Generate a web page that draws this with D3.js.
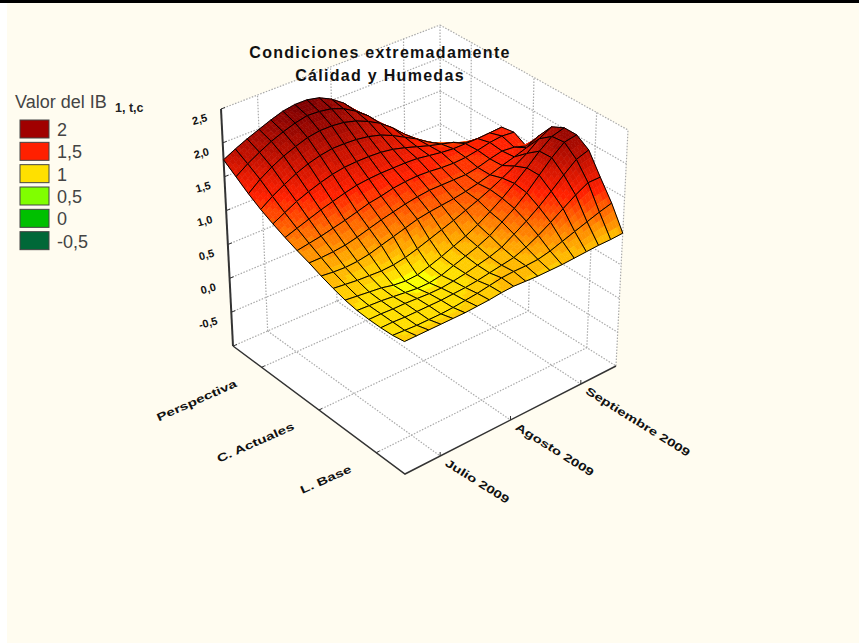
<!DOCTYPE html>
<html>
<head>
<meta charset="utf-8">
<title>Condiciones extremadamente</title>
<script src="https://cdn.jsdelivr.net/npm/d3@7"></script>
<style>
  html, body { margin: 0; padding: 0; background: #ffffff; }
  svg { display: block; }
  text { font-family: "Liberation Sans", Arial, sans-serif; }
</style>
</head>
<body>
<div id="chart"></div>
<script>
// values

const months = ['Julio 2009', 'Agosto 2009', 'Septiembre 2009'];
const groups = ['Perspectiva', 'C. Actuales', 'L. Base'];
const zTicks = [2.5, 2, 1.5, 1, 0.5, 0, -0.5, -1];
const zTickLabels = ['2,5', '2,0', '1,5', '1,0', '0,5', '0,0', '-0,5', ''];
const legendLevels = [2, 1.5, 1, 0.5, 0, -0.5];
const legendLabels = ['2', '1,5', '1', '0,5', '0', '-0,5'];
const legendColors = ['#a00000', '#ff2000', '#ffe000', '#80ff00', '#00c000', '#006838'];

// surface heights: one row per line from Perspectiva to L. Base,
// one column per line from Julio to Septiembre
const surface = [
  [1.75,1.84,1.92,1.99,2.06,2.12,2.15,2.15,2.11,2.02,1.89,1.70,1.46,1.24,1.05,0.90,0.78,0.66,0.56],
  [1.62,1.74,1.84,1.93,2.00,2.06,2.10,2.09,2.06,1.99,1.88,1.74,1.54,1.34,1.15,0.99,0.88,0.78,0.70],
  [1.49,1.63,1.74,1.83,1.90,1.96,1.99,1.99,1.97,1.92,1.84,1.74,1.60,1.43,1.26,1.12,1.00,0.92,0.85],
  [1.38,1.50,1.60,1.69,1.76,1.81,1.84,1.84,1.83,1.80,1.75,1.67,1.57,1.47,1.35,1.25,1.15,1.05,0.98],
  [1.29,1.38,1.47,1.54,1.60,1.65,1.68,1.69,1.69,1.68,1.65,1.60,1.54,1.48,1.43,1.38,1.30,1.22,1.20],
  [1.21,1.27,1.33,1.39,1.44,1.49,1.53,1.55,1.56,1.56,1.56,1.55,1.52,1.49,1.47,1.47,1.47,1.48,1.49],
  [1.14,1.17,1.20,1.24,1.28,1.33,1.38,1.41,1.45,1.47,1.48,1.47,1.45,1.44,1.45,1.48,1.52,1.54,1.52],
  [1.08,1.08,1.09,1.11,1.15,1.20,1.25,1.29,1.33,1.36,1.38,1.38,1.38,1.38,1.41,1.46,1.50,1.48,1.42],
  [1.01,0.99,0.98,0.99,1.02,1.07,1.12,1.17,1.22,1.25,1.27,1.29,1.32,1.36,1.41,1.47,1.52,1.58,1.68],
  [0.95,0.93,0.91,0.90,0.89,0.90,0.93,0.98,1.04,1.10,1.16,1.23,1.30,1.38,1.47,1.57,1.68,1.82,1.92],
  [0.90,0.88,0.86,0.84,0.80,0.78,0.79,0.84,0.90,0.97,1.04,1.13,1.24,1.36,1.50,1.65,1.82,1.96,2.01],
  [0.87,0.86,0.85,0.83,0.81,0.79,0.79,0.82,0.88,0.94,1.00,1.08,1.20,1.32,1.47,1.65,1.83,1.98,2.01],
  [0.86,0.86,0.85,0.85,0.84,0.83,0.83,0.85,0.88,0.92,0.96,1.02,1.13,1.24,1.37,1.52,1.68,1.83,1.89],
  [0.86,0.86,0.85,0.85,0.85,0.85,0.86,0.87,0.89,0.92,0.95,0.98,1.05,1.14,1.25,1.37,1.49,1.59,1.59],
  [0.87,0.86,0.85,0.85,0.85,0.86,0.88,0.90,0.93,0.96,0.97,0.97,0.98,1.02,1.08,1.14,1.20,1.26,1.31],
  [0.90,0.90,0.90,0.90,0.90,0.90,0.91,0.92,0.94,0.95,0.94,0.93,0.93,0.93,0.94,0.95,0.96,0.96,0.97]
];

const w = 859, h = 643;

const svg = d3.select('#chart').append('svg')
  .attr('width', w)
  .attr('height', h);

// page background
svg.append('rect').attr('x', 7).attr('y', 0).attr('width', w - 7).attr('height', h).attr('fill', '#fffcf0');
svg.append('rect').attr('width', w).attr('height', 3).attr('fill', '#000');

// screen position of the eight box corners, named by [month side][group side]
const floor = { L: [233, 346], F: [405, 474], R: [616, 366], B: [441, 256] };
const roof  = { L: [221, 109], F: [404, 230], R: [628, 130], B: [440, 25] };

// scales take data to the unit cube
const uGrid = d3.scaleLinear().domain([0, surface[0].length - 1]).range([0, 1]);
const vGrid = d3.scaleLinear().domain([0, surface.length - 1]).range([0, 1]);
const uMonth = d3.scalePoint().domain(months).range([0, 1]).padding(0.5);
const vGroup = d3.scalePoint().domain(groups).range([0, 1]).padding(0.5);
const wValue = d3.scaleLinear().domain([-1, 2.5]).range([0, 1]);

function mix(a, b, t) {
  return [a[0] + (b[0] - a[0]) * t, a[1] + (b[1] - a[1]) * t];
}

// u runs Julio->Septiembre, v runs Perspectiva->L. Base, t runs floor->roof
function project(u, v, t) {
  const low = mix(mix(floor.L, floor.B, u), mix(floor.F, floor.R, u), v);
  const high = mix(mix(roof.L, roof.B, u), mix(roof.F, roof.R, u), v);
  return mix(low, high, t);
}

const line = d3.line();

// walls and floor
const walls = svg.append('g');
[[[0, 0, 0], [1, 0, 0], [1, 0, 1], [0, 0, 1]],
 [[1, 0, 0], [1, 1, 0], [1, 1, 1], [1, 0, 1]],
 [[0, 0, 0], [1, 0, 0], [1, 1, 0], [0, 1, 0]]].forEach(face => {
  walls.append('path')
    .attr('d', line(face.map(p => project(p[0], p[1], p[2]))) + 'Z')
    .attr('fill', '#fff');
});

function gridLine(a, b) {
  walls.append('path')
    .attr('d', line([project(...a), project(...b)]))
    .attr('fill', 'none')
    .attr('stroke', '#aaa')
    .attr('stroke-width', 1.2)
    .attr('stroke-dasharray', '1.5 1.5');
}

zTicks.forEach(z => {
  const t = wValue(z);
  gridLine([0, 0, t], [1, 0, t]);
  gridLine([1, 0, t], [1, 1, t]);
});
months.forEach(m => {
  const u = uMonth(m);
  gridLine([u, 0, 0], [u, 0, 1]);
  gridLine([u, 0, 0], [u, 1, 0]);
});
groups.forEach(g => {
  const v = vGroup(g);
  gridLine([1, v, 0], [1, v, 1]);
  gridLine([0, v, 0], [1, v, 0]);
});
gridLine([1, 0, 0], [1, 0, 1]);
gridLine([1, 1, 0], [1, 1, 1]);

// axes
const axes = svg.append('g').attr('fill', 'none').attr('stroke', '#333');
axes.append('path').attr('stroke-width', 2)
  .attr('d', line([project(0, 0, 0), project(0, 0, 1)]));
axes.append('path').attr('stroke-width', 1.5)
  .attr('d', line([project(0, 0, 0), project(0, 1, 0), project(1, 1, 0)]));

zTicks.forEach(z => {
  const p = project(0, 0, wValue(z));
  axes.append('path').attr('stroke-width', 1).attr('d', line([p, [p[0] + 4, p[1] - 1.5]]));
});
months.forEach(m => {
  const p = project(uMonth(m), 1, 0);
  axes.append('path').attr('stroke-width', 1).attr('d', line([p, [p[0], p[1] - 4]]));
});
groups.forEach(g => {
  const p = project(0, vGroup(g), 0);
  axes.append('path').attr('stroke-width', 1).attr('d', line([p, [p[0] + 3, p[1] - 1.5]]));
});

// colour follows the height, in flat bands as on the original surface
const bandStep = 0.065;
const colorScale = d3.scaleLinear()
  .domain([-0.5, 0, 0.5, 0.79, 0.84, 1.5, 2.15])
  .range(['#006838', '#00c000', '#80ff00', '#ffff00', '#ffe000', '#ff2000', '#800000'])
  .clamp(true);
const bandColor = z => colorScale(Math.round(z / bandStep) * bandStep);

// surface, painted from the back corner to the front corner
const mesh = svg.append('g').attr('stroke-linejoin', 'round');
const subdiv = 4;
const rows = surface.length, cols = surface[0].length;

for (let r = 0; r < rows - 1; r++) {
  for (let c = cols - 2; c >= 0; c--) {
    const z00 = surface[r][c], z01 = surface[r][c + 1];
    const z10 = surface[r + 1][c], z11 = surface[r + 1][c + 1];
    const at = (a, b) => {
      const z = (z00 * (1 - a) + z01 * a) * (1 - b) + (z10 * (1 - a) + z11 * a) * b;
      return { z, p: project(uGrid(c + a), vGrid(r + b), wValue(z)) };
    };
    for (let i = 0; i < subdiv; i++) {
      for (let j = 0; j < subdiv; j++) {
        const a0 = i / subdiv, a1 = (i + 1) / subdiv;
        const b0 = j / subdiv, b1 = (j + 1) / subdiv;
        const col = bandColor(at((a0 + a1) / 2, (b0 + b1) / 2).z);
        mesh.append('path')
          .attr('d', line([at(a0, b0).p, at(a1, b0).p, at(a1, b1).p, at(a0, b1).p]) + 'Z')
          .attr('fill', col)
          .attr('stroke', col)
          .attr('stroke-width', 0.6);
      }
    }
    mesh.append('path')
      .attr('d', line([at(0, 0).p, at(1, 0).p, at(1, 1).p, at(0, 1).p]) + 'Z')
      .attr('fill', 'none')
      .attr('stroke', '#000')
      .attr('stroke-width', 1);
  }
}

// tick labels, the glyphs of the original are stretched sideways
const labels = svg.append('g').attr('font-weight', 'bold').attr('font-size', 11).attr('fill', '#111');

zTicks.forEach((z, i) => {
  const p = project(0, 0, wValue(z));
  labels.append('text')
    .attr('transform', `translate(${p[0] - 13},${p[1] + 12}) rotate(-15)`)
    .attr('text-anchor', 'end')
    .text(zTickLabels[i]);
});
months.forEach(m => {
  const p = project(uMonth(m), 1, 0);
  labels.append('text')
    .attr('transform', `translate(${p[0] + 4},${p[1] + 9}) rotate(32) scale(1.38,1)`)
    .text(m);
});
groups.forEach(g => {
  const p = project(0, vGroup(g), 0);
  labels.append('text')
    .attr('transform', `translate(${p[0] - 24},${p[1] + 19}) rotate(-24) scale(1.4,1)`)
    .attr('text-anchor', 'end')
    .text(g);
});

// title
const title = svg.append('g').attr('font-weight', 'bold').attr('font-size', 16).attr('fill', '#111')
  .attr('letter-spacing', 1.3).attr('text-anchor', 'middle');
title.append('text').attr('x', 380).attr('y', 58).text('Condiciones extremadamente');
title.append('text').attr('x', 380).attr('y', 81).text('Cálidad y Humedas');

// legend
const legend = svg.append('g').attr('id', 'legend');
legend.append('text').attr('x', 15).attr('y', 108).attr('font-size', 18).attr('fill', '#444').text('Valor del IB');
legend.append('text').attr('x', 115).attr('y', 112).attr('font-size', 12.5).attr('font-weight', 'bold').attr('fill', '#222').text('1, t,c');

const legendY = d3.scaleBand().domain(legendLevels).range([119, 253]);
legendLevels.forEach((lv, i) => {
  legend.append('rect')
    .attr('x', 20)
    .attr('y', legendY(lv) + 1)
    .attr('width', 29)
    .attr('height', 18)
    .attr('fill', legendColors[i])
    .attr('stroke', '#444')
    .attr('stroke-width', 1);
  legend.append('text')
    .attr('x', 57)
    .attr('y', legendY(lv) + 17)
    .attr('font-size', 18)
    .attr('fill', '#444')
    .text(legendLabels[i]);
});
</script>
</body>
</html>
